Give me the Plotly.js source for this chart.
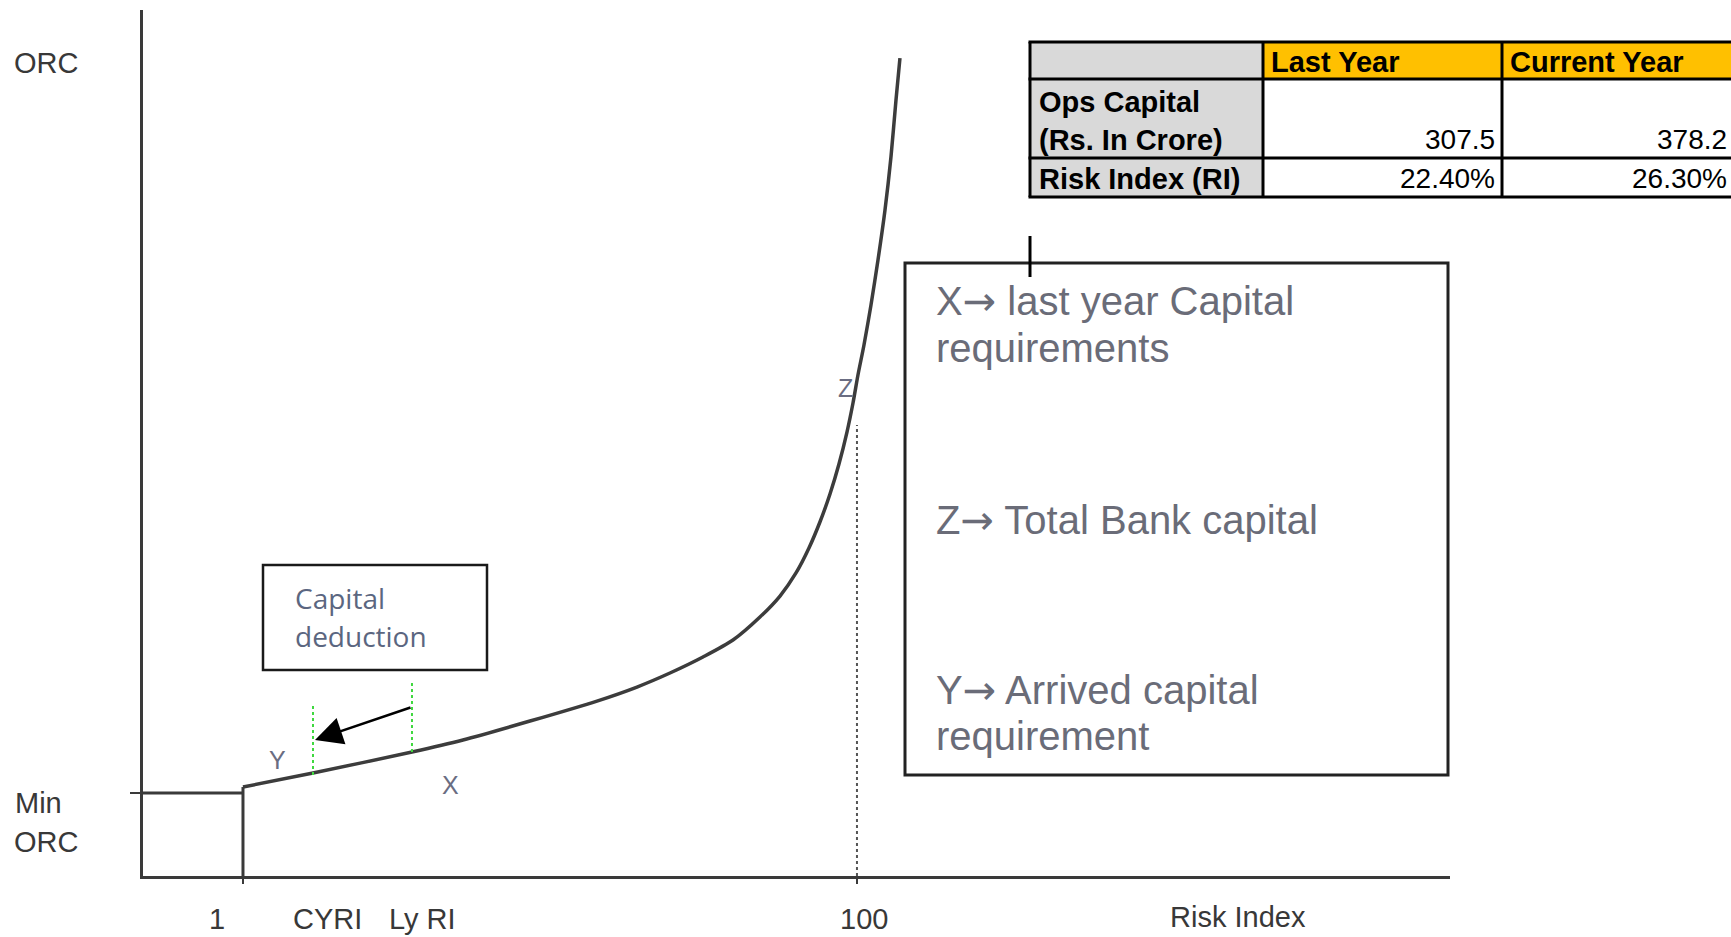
<!DOCTYPE html>
<html>
<head>
<meta charset="utf-8">
<script src="https://cdn.plot.ly/plotly-3.0.1.min.js"></script>
<style>
  html, body { margin: 0; padding: 0; background: #ffffff; }
  #chart { width: 1731px; height: 937px; }
</style>
</head>
<body>
<div id="chart"></div>
<script>
// ---- Curve (x: Risk Index, y: ORC in units of Min ORC) ----
const riskIndex = [1.00, 12.29, 28.25, 36.47, 47.28, 58.08, 64.53, 69.85, 75.17, 80.01,
                   84.36, 87.59, 90.17, 92.26, 94.03, 95.65, 97.10, 98.39, 99.36, 100.16,
                   101.13, 102.26, 103.39, 104.52, 105.48, 106.29, 106.93];
const orc = [1.072, 1.241, 1.494, 1.639, 1.867, 2.108, 2.277, 2.446, 2.639, 2.843,
             3.120, 3.373, 3.651, 3.952, 4.265, 4.602, 4.964, 5.349, 5.699, 6.036,
             6.398, 6.880, 7.422, 8.024, 8.663, 9.349, 9.855];

// Reference points
const minOrc = 1;
const baseRI = 1;
const fullRI = 100;
const cyRI = 12.29;          // current-year RI marker (Y)
const lyRI = 28.25;          // last-year RI marker (X)
const cyMarkerOrc = [1.217, 2.084];
const lyMarkerOrc = [1.494, 2.361];
const arrowFrom = [28.25, 2.036];
const arrowTo = [12.61, 1.639];
const fullRIDottedTop = 5.434;

// Axis text
const xTickLabels = ['1', 'CYRI', 'Ly RI', '100'];
const xTitle = 'Risk Index';
const yTitle = 'ORC';
const yMinLabel = ['Min', 'ORC'];

// Table
const tableHeader = ['', 'Last Year', 'Current Year'];
const rowLabels = [['Ops Capital', '(Rs. In Crore)'], ['Risk Index (RI)']];
const lastYear = ['307.5', '22.40%'];
const currentYear = ['378.2', '26.30%'];

// Legend box text
const ARROW = '<span style="font-family:\'DejaVu Sans\'">\u2192</span>';
const legendLines = [
  ['X' + ARROW + ' last year Capital', 'requirements'],
  ['Z' + ARROW + ' Total Bank capital'],
  ['Y' + ARROW + ' Arrived capital', 'requirement']
];
const deductionText = ['Capital', 'deduction'];

// ---- layout helpers (pixel -> paper) ----
const W = 1731, H = 937;
const px = v => v / W;
const py = v => 1 - v / H;

const axisColor = '#3a3a3a';
const labelColor = '#383838';
const softText = '#6a6d82';

const shapes = [];
const annotations = [];
function txt(x, y, text, font, xanchor) {
  annotations.push({xref:'paper', yref:'paper', x:px(x), y:py(y), xanchor:xanchor || 'center',
                    yanchor:'middle', text:text, showarrow:false, font:font});
}

// Min ORC horizontal & vertical at RI=1
shapes.push({type:'line', xref:'x', yref:'y', x0:-15.12, x1:baseRI, y0:minOrc, y1:minOrc,
             line:{color:axisColor, width:3}});
shapes.push({type:'line', xref:'x', yref:'y', x0:baseRI, x1:baseRI, y0:0, y1:orc[0],
             line:{color:axisColor, width:3}});
// dotted line at RI = 100
shapes.push({type:'line', xref:'x', yref:'y', x0:fullRI, x1:fullRI, y0:0, y1:fullRIDottedTop,
             line:{color:'#555555', width:2, dash:'dot'}});
// green markers
shapes.push({type:'line', xref:'x', yref:'y', x0:cyRI, x1:cyRI, y0:cyMarkerOrc[0], y1:cyMarkerOrc[1],
             line:{color:'#3fd83f', width:2, dash:'dot'}});
shapes.push({type:'line', xref:'x', yref:'y', x0:lyRI, x1:lyRI, y0:lyMarkerOrc[0], y1:lyMarkerOrc[1],
             line:{color:'#3fd83f', width:2, dash:'dot'}});

// Capital deduction box
shapes.push({type:'rect', xref:'paper', yref:'paper', x0:px(263), x1:px(487), y0:py(670), y1:py(565),
             line:{color:'#1a1a1a', width:2.5}, fillcolor:'rgba(0,0,0,0)'});
const dedFont = {family:'"Open Sans", Lato, sans-serif', size:28, color:'#5b6680'};
txt(293, 598, deductionText[0], dedFont, 'left');
txt(293, 636, deductionText[1], dedFont, 'left');

// Arrow (capital deduction)
annotations.push({x:arrowTo[0], y:arrowTo[1], ax:arrowFrom[0], ay:arrowFrom[1], xref:'x', yref:'y',
                  axref:'x', ayref:'y', text:'', showarrow:true, arrowhead:2, arrowsize:2.2,
                  arrowwidth:2.5, arrowcolor:'#000000', standoff:0, startstandoff:0});

// Point labels
const ptFont = {family:'"Liberation Sans", Arial, sans-serif', size:25, color:softText};
txt(277, 760, 'Y', ptFont);
txt(450, 785, 'X', ptFont);
txt(845, 388, 'Z', ptFont);

// Axis texts
const axFont = {family:'"Liberation Sans", Arial, sans-serif', size:29, color:labelColor};
txt(46, 63, yTitle, axFont);
txt(13, 803, yMinLabel[0], axFont, 'left');
txt(12, 842, yMinLabel[1], axFont, 'left');
const xLabelPos = [217, 327, 422, 864];
xTickLabels.forEach((t, i) => txt(xLabelPos[i], 919, t, axFont));
txt(1238, 917, xTitle, axFont);

// Legend box
shapes.push({type:'rect', xref:'paper', yref:'paper', x0:px(905), x1:px(1448), y0:py(775), y1:py(263),
             line:{color:'#222222', width:3}, fillcolor:'rgba(0,0,0,0)'});
shapes.push({type:'line', xref:'paper', yref:'paper', x0:px(1030), x1:px(1030), y0:py(236), y1:py(277),
             line:{color:'#000000', width:3}});
const lgFont = {family:'"Liberation Sans", Arial, sans-serif', size:40, color:'#6a6c78'};
const legendY = [[301, 348], [520], [690, 736]];
legendLines.forEach((lines, i) => {
  lines.forEach((t, j) => txt(934, legendY[i][j], t, lgFont, 'left'));
});

// Table
const colX = [1030, 1263, 1502, 1745];
const rowY = [42, 79, 158, 197];
const grey = '#d9d9d9', orange = '#ffc000';
for (let r = 0; r < 3; r++) {
  for (let c = 0; c < 3; c++) {
    let fill = '#ffffff';
    if (c === 0) fill = grey;
    else if (r === 0) fill = orange;
    shapes.push({type:'rect', xref:'paper', yref:'paper', x0:px(colX[c]), x1:px(colX[c+1]),
                 y0:py(rowY[r+1]), y1:py(rowY[r]), line:{width:0}, fillcolor:fill, layer:'below'});
  }
}
rowY.forEach(y => shapes.push({type:'line', xref:'paper', yref:'paper', x0:px(colX[0]-1.5), x1:px(colX[3]),
                               y0:py(y), y1:py(y), line:{color:'#000000', width:3}}));
colX.slice(0, 3).forEach(x => shapes.push({type:'line', xref:'paper', yref:'paper', x0:px(x), x1:px(x),
                               y0:py(rowY[0]), y1:py(rowY[3]), line:{color:'#000000', width:3}}));
const tbBold = {family:'"Liberation Sans", Arial, sans-serif', size:29, color:'#000000'};
const tbReg = {family:'"Liberation Sans", Arial, sans-serif', size:28, color:'#000000'};
txt(1269, 62, '<b>' + tableHeader[1] + '</b>', tbBold, 'left');
txt(1508, 62, '<b>' + tableHeader[2] + '</b>', tbBold, 'left');
const labelY = [[102, 140], [179]];
rowLabels.forEach((lines, i) => {
  lines.forEach((t, j) => txt(1037, labelY[i][j], '<b>' + t + '</b>', tbBold, 'left'));
});
const valueY = [140, 179];
lastYear.forEach((v, i) => txt(1497, valueY[i], v, tbReg, 'right'));
currentYear.forEach((v, i) => txt(1729, valueY[i], v, tbReg, 'right'));

const traces = [{
  type:'scatter', mode:'lines', x:riskIndex, y:orc,
  line:{color:'#3c3c3c', width:3.5, shape:'spline', smoothing:0.8},
  hoverinfo:'skip', showlegend:false
}];

const layout = {
  width: W, height: H,
  margin: {l:0, r:0, t:0, b:0, pad:0},
  paper_bgcolor:'#ffffff', plot_bgcolor:'rgba(0,0,0,0)',
  showlegend:false,
  xaxis: {domain:[143/W, 1450/W], range:[-15.12, 195.62], showline:true, linecolor:axisColor, linewidth:3,
          showgrid:false, zeroline:false, tickvals:[baseRI, fullRI], ticks:'outside', ticklen:5,
          tickwidth:2.5, tickcolor:axisColor, showticklabels:false, fixedrange:true},
  yaxis: {domain:[1 - 876/H, 1 - 10/H], range:[0, 10.434], showline:true, linecolor:axisColor, linewidth:3,
          showgrid:false, zeroline:false, tickvals:[minOrc], ticks:'outside', ticklen:10,
          tickwidth:2.5, tickcolor:axisColor, showticklabels:false, fixedrange:true},
  shapes: shapes,
  annotations: annotations
};

Plotly.newPlot('chart', traces, layout, {staticPlot:true, displayModeBar:false});
</script>
</body>
</html>
